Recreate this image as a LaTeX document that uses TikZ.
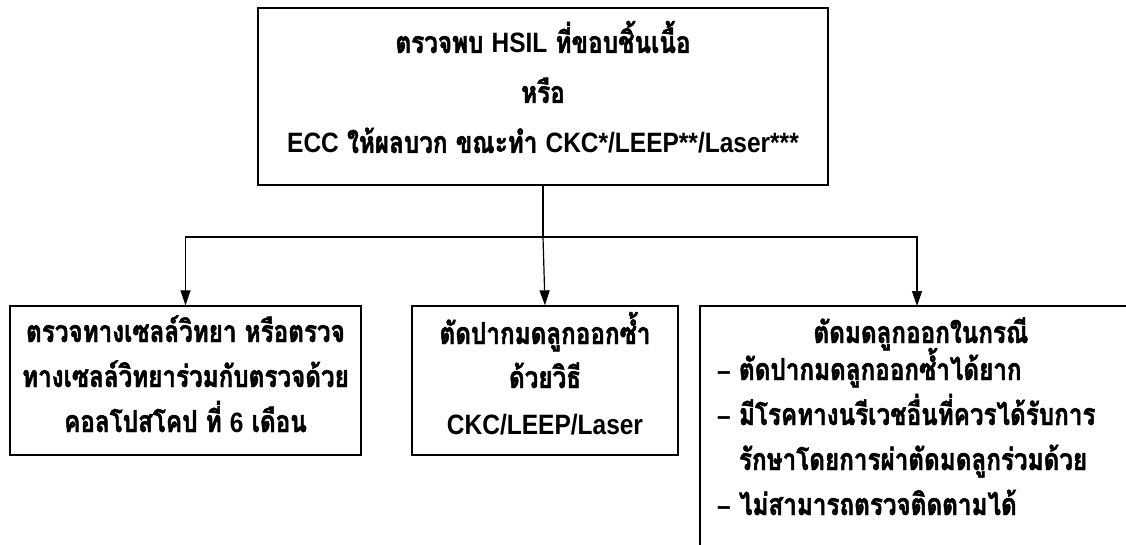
\documentclass[tikz,border=0pt]{standalone}
\usepackage{fontspec}
\newfontfamily\thaifont[Script=Thai,FakeStretch=0.8,FakeBold=1.5]{Loma}
\newfontfamily\latfont[FakeStretch=0.875]{Liberation Sans}
\newcommand{\lat}[1]{{\latfont\bfseries\fontsize{28}{36}\selectfont #1}}
\usetikzlibrary{arrows.meta}
\begin{document}
\begin{tikzpicture}[x=1pt,y=-1pt,
  tfont/.style={font={\thaifont\bfseries\fontsize{30.3}{36}\selectfont}},
  box/.style={inner sep=0pt,draw,line width=1.3pt},
  ctr/.style={tfont,inner sep=0pt,anchor=base},
  line/.style={tfont,inner sep=0pt,anchor=base west},
  conn/.style={line width=1.2pt},
  arr/.style={conn,-{Triangle[length=15pt,width=10pt]}}]
\useasboundingbox (0,0) rectangle (1126,545);
% top box
\node[box,minimum width=570pt,minimum height=177pt] (top) at (543,96.5) {};
\node[ctr] (t1) at (543,53) {ตรวจพบ \lat{HSIL} ที่ขอบชิ้นเนื้อ};
\node[ctr] (t2) at (543,103) {หรือ};
\node[ctr] (t3) at (543,153) {\lat{ECC} ให้ผลบวก ขณะทำ \lat{CKC*/LEEP**/Laser***}};
% left box
\node[box,minimum width=351pt,minimum height=149pt] (left) at (185.5,380.5) {};
\node[ctr] (l1) at (185.5,342) {ตรวจทางเซลล์วิทยา หรือตรวจ};
\node[ctr] (l2) at (185.5,387) {ทางเซลล์วิทยาร่วมกับตรวจด้วย};
\node[ctr] (l3) at (185.5,432) {คอลโปสโคป ที่ \lat{6} เดือน};
% middle box
\node[box,minimum width=266pt,minimum height=149pt] (mid) at (545,380.5) {};
\node[ctr] (m1) at (545,344) {ตัดปากมดลูกออกซ้ำ};
\node[ctr] (m2) at (545,388) {ด้วยวิธี};
\node[ctr] (m3) at (545,434) {\lat{CKC/LEEP/Laser}};
% right box (open at right and bottom)
\coordinate (rtop) at (917,306);
\draw[line width=1.3pt] (1126,306) -- (700,306) -- (700,545);
\node[ctr] (r0) at (921,343) {ตัดมดลูกออกในกรณี};
\node[line] (r1) at (717,380) {\lat{–} ตัดปากมดลูกออกซ้ำได้ยาก};
\node[line] (r2) at (717,425) {\lat{–} มีโรคทางนรีเวชอื่นที่ควรได้รับการ};
\node[line] (r3) at (717,470) {\phantom{\lat{–} }รักษาโดยการผ่าตัดมดลูกร่วมด้วย};
\node[line] (r4) at (717,515) {\lat{–} ไม่สามารถตรวจติดตามได้};
% connectors
\coordinate (j) at (top.south |- 0,237);
\draw[conn] (top.south) -- (j);
\draw[arr] (j) -| (left.north);
\draw[arr] (j) -- (mid.north);
\draw[arr] (j) -| (rtop);
\end{tikzpicture}
\end{document}
